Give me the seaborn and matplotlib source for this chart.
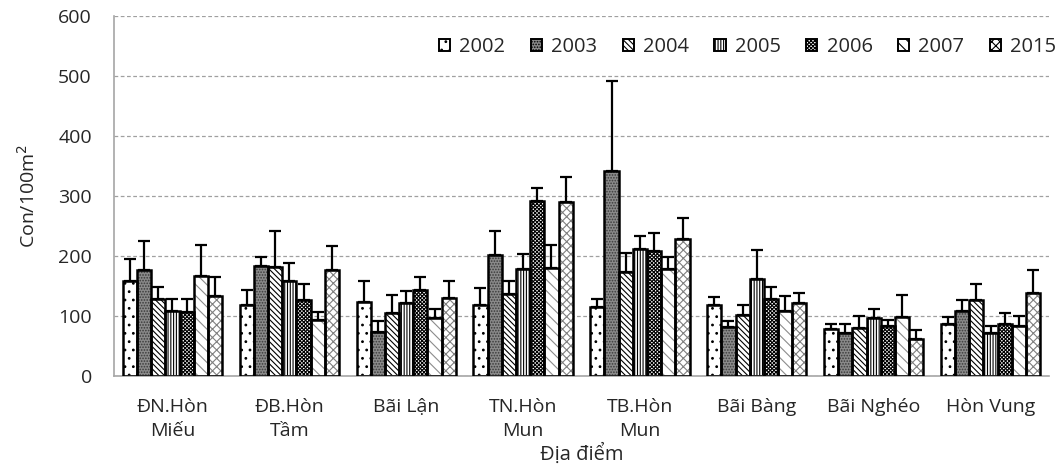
import numpy as np
import pandas as pd
import matplotlib
matplotlib.use("Agg")
import matplotlib.pyplot as plt
import seaborn as sns
import logging
logging.getLogger("matplotlib.font_manager").setLevel(logging.ERROR)

sites = ["ĐN.Hòn\nMiếu", "ĐB.Hòn\nTầm", "Bãi Lận", "TN.Hòn\nMun",
         "TB.Hòn\nMun", "Bãi Bàng", "Bãi Nghéo", "Hòn Vung"]
years = ["2002", "2003", "2004", "2005", "2006", "2007", "2015"]

v2002 = [159, 119, 124, 119, 115, 118, 78, 87]
v2003 = [177, 183, 74, 201, 341, 81, 72, 108]
v2004 = [129, 181, 105, 136, 173, 102, 80, 126]
v2005 = [109, 158, 121, 179, 212, 161, 96, 72]
v2006 = [106, 126, 144, 292, 208, 129, 83, 87]
v2007 = [167, 94, 96, 180, 178, 108, 98, 83]
v2015 = [133, 177, 130, 290, 228, 121, 61, 138]

e2002 = [36, 24, 35, 27, 13, 13, 9, 11]
e2003 = [48, 15, 18, 40, 151, 10, 15, 18]
e2004 = [20, 60, 30, 23, 32, 17, 20, 27]
e2005 = [20, 30, 21, 25, 21, 49, 15, 11]
e2006 = [22, 28, 21, 22, 30, 19, 11, 18]
e2007 = [51, 12, 16, 39, 20, 26, 37, 17]
e2015 = [32, 39, 28, 41, 35, 17, 15, 39]

values = [v2002, v2003, v2004, v2005, v2006, v2007, v2015]
errors = [e2002, e2003, e2004, e2005, e2006, e2007, e2015]

rows = []
for y, vals in zip(years, values):
    for s, v in zip(sites, vals):
        rows.append({"site": s, "year": y, "value": v})
df = pd.DataFrame(rows)

sns.set_style("white")
plt.rcParams["font.family"] = ["Open Sans", "DejaVu Sans"]
plt.rcParams["hatch.linewidth"] = 0.8

fig = plt.figure(figsize=(10.59, 4.75), dpi=100)
ax = fig.add_axes([114 / 1059, (475 - 376) / 475, 935 / 1059, 360 / 475])

sns.barplot(data=df, x="site", y="value", hue="year", order=sites,
            hue_order=years, errorbar=None, width=0.85, ax=ax,
            palette=["white"] * 7, legend=False)

styles = [
    ("white", "..", "black"),
    ("#8a8a8a", "......", "#3a3a3a"),
    ("white", "\\\\\\\\\\\\", "black"),
    ("white", "||||||", "black"),
    ("white", "xxxxxxxxx", "black"),
    ("white", "\\\\\\", "#8c8c8c"),
    ("white", "xxxx", "#808080"),
]

for cont, (fc, hatch, hc), err in zip(ax.containers, styles, errors):
    xs, hs = [], []
    w = None
    for bar in cont:
        bar.set_facecolor(fc)
        bar.set_hatch(hatch)
        bar.set_edgecolor(hc)
        bar.set_linewidth(0)
        xs.append(bar.get_x() + bar.get_width() / 2)
        hs.append(bar.get_height())
        w = bar.get_width()
    ax.bar(xs, hs, width=w, fill=False, edgecolor="black", linewidth=1.8, zorder=3)
    ax.errorbar(xs, hs, yerr=[np.zeros(len(err)), err], fmt="none",
                ecolor="black", elinewidth=1.6, capsize=4.5, capthick=1.6, zorder=2)

ax.set_ylim(0, 600)
ax.set_yticks(range(0, 601, 100))
ax.set_xlim(-0.5, len(sites) - 0.5)
ax.yaxis.grid(True, linestyle=(0, (3, 2)), color="#a0a0a0", linewidth=0.9)
ax.set_axisbelow(True)
for sp in ["top", "right"]:
    ax.spines[sp].set_visible(False)
for sp in ["left", "bottom"]:
    ax.spines[sp].set_color("#a6a6a6")
    ax.spines[sp].set_linewidth(1.2)

ax.set_xticks(range(len(sites)))
ax.set_xticklabels(sites, fontsize=14, linespacing=1.4)
ax.tick_params(axis="x", length=0, pad=16)
ax.set_xticks(np.arange(-0.5, len(sites), 1), minor=True)
ax.tick_params(axis="x", which="minor", length=6, color="#a6a6a6", width=1.2)
ax.tick_params(axis="y", length=6, color="#a6a6a6", width=1.2, labelsize=14, pad=10)

ax.set_ylabel("Con/100m$^{2}$", fontsize=14, labelpad=14)
ax.set_xlabel("Địa điểm", fontsize=14.5, labelpad=3)

leg = ax.legend(ax.containers, years, loc="center right", ncol=7, frameon=False,
                bbox_to_anchor=(1.008, 0.914), fontsize=14.5, handlelength=0.55,
                handleheight=0.55, handletextpad=0.45, columnspacing=1.28,
                borderpad=0, borderaxespad=0)
for h in leg.legend_handles:
    h.set_linewidth(1.4)
    h.set_edgecolor("black")

fig.savefig("out.png", dpi=100)
